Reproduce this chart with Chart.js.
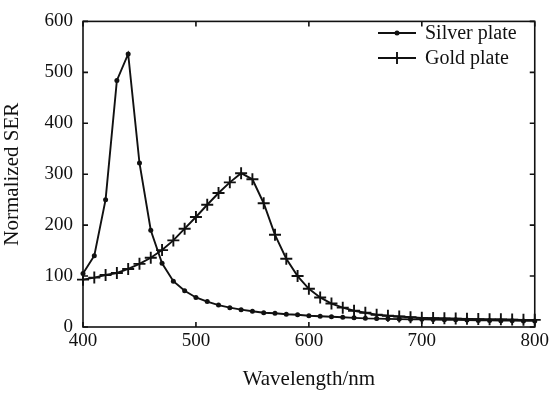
<!DOCTYPE html>
<html>
<head>
<meta charset="utf-8">
<script src="https://cdn.jsdelivr.net/npm/chart.js@4/dist/chart.umd.min.js"></script>
<style>
  html, body { margin: 0; padding: 0; background: #fff; }
  #wrap { width: 552px; height: 394px; }
</style>
</head>
<body>
<div id="wrap"><canvas id="serChart"></canvas></div>
<script>
// Wavelength (nm)
const wavelengths = [400, 410, 420, 430, 440, 450, 460, 470, 480, 490,
  500, 510, 520, 530, 540, 550, 560, 570, 580, 590,
  600, 610, 620, 630, 640, 650, 660, 670, 680, 690,
  700, 710, 720, 730, 740, 750, 760, 770, 780, 790, 800];

// Normalized SER values
const silverPlate = [105, 140, 250, 484, 536, 322, 190, 125, 90, 71,
  58, 50, 43, 38, 34, 31, 28, 27, 25, 24,
  22, 21, 20, 19, 18, 17, 16.5, 16, 15.5, 15,
  15, 14.5, 14, 14, 13.5, 13, 13, 12.5, 12.5, 12, 12];

const goldPlate = [93, 97, 102, 106, 114, 124, 136, 151, 170, 193,
  216, 240, 263, 284, 302, 290, 243, 181, 134, 100,
  75, 58, 46, 38, 32, 28, 24, 22, 20.5, 19,
  18, 17.5, 17, 16.5, 16, 15.5, 15, 15, 14.5, 14, 14];

const xTicks = [400, 500, 600, 700, 800];
const yTicks = [0, 100, 200, 300, 400, 500, 600];

const FONT = "'Liberation Serif', 'Times New Roman', serif";
const INK = "#111";

function toPoints(ys) {
  return wavelengths.map((x, i) => ({ x: x, y: ys[i] }));
}

// Box frame with inward ticks on all four sides, plus the legend
const framePlugin = {
  id: "frame",
  afterDraw(chart) {
    const ctx = chart.ctx;
    const a = chart.chartArea;
    const xs = chart.scales.x;
    const ys = chart.scales.y;
    const len = 5;
    ctx.save();
    ctx.strokeStyle = INK;
    ctx.lineWidth = 1.6;
    ctx.strokeRect(a.left, a.top, a.right - a.left, a.bottom - a.top);
    ctx.beginPath();
    xTicks.forEach(v => {
      const px = xs.getPixelForValue(v);
      ctx.moveTo(px, a.bottom); ctx.lineTo(px, a.bottom - len);
      ctx.moveTo(px, a.top); ctx.lineTo(px, a.top + len);
    });
    yTicks.forEach(v => {
      const py = ys.getPixelForValue(v);
      ctx.moveTo(a.left, py); ctx.lineTo(a.left + len, py);
      ctx.moveTo(a.right, py); ctx.lineTo(a.right - len, py);
    });
    ctx.stroke();

    // legend
    const items = chart.data.datasets;
    const lx0 = 378, lx1 = 416, tx = 425;
    const rows = [33, 58];
    ctx.font = "20px " + FONT;
    ctx.textBaseline = "middle";
    ctx.textAlign = "left";
    items.forEach((ds, i) => {
      const y = rows[i];
      const mid = (lx0 + lx1) / 2;
      ctx.lineWidth = 1.9;
      ctx.beginPath();
      ctx.moveTo(lx0, y); ctx.lineTo(lx1, y);
      ctx.stroke();
      if (ds.pointStyle === "circle") {
        ctx.fillStyle = INK;
        ctx.beginPath();
        ctx.arc(mid, y, 2.5, 0, Math.PI * 2);
        ctx.fill();
      } else {
        ctx.beginPath();
        ctx.moveTo(mid, y - 6); ctx.lineTo(mid, y + 6);
        ctx.stroke();
      }
      ctx.fillStyle = INK;
      ctx.fillText(ds.label, tx, y + 1);
    });
    ctx.restore();
  }
};

new Chart(document.getElementById("serChart"), {
  type: "line",
  data: {
    datasets: [
      {
        label: "Silver plate",
        data: toPoints(silverPlate),
        borderColor: INK,
        backgroundColor: INK,
        borderWidth: 1.9,
        pointStyle: "circle",
        pointRadius: 2.5,
        pointBorderWidth: 0,
        tension: 0,
        clip: false
      },
      {
        label: "Gold plate",
        data: toPoints(goldPlate),
        borderColor: INK,
        backgroundColor: INK,
        borderWidth: 1.9,
        pointStyle: "cross",
        pointRadius: 6,
        pointBorderWidth: 1.9,
        tension: 0,
        clip: false
      }
    ]
  },
  options: {
    responsive: true,
    maintainAspectRatio: false,
    animation: false,
    layout: { padding: { left: 0, top: 14, right: 15, bottom: 0 } },
    plugins: {
      legend: { display: false },
      tooltip: { enabled: false }
    },
    scales: {
      x: {
        type: "linear",
        min: 400,
        max: 800,
        grid: { display: false, drawTicks: false },
        border: { display: false },
        afterBuildTicks: s => { s.ticks = xTicks.map(v => ({ value: v })); },
        afterFit: s => { s.height = 67; },
        ticks: {
          color: INK,
          padding: 3,
          maxRotation: 0,
          font: { family: FONT, size: 19 }
        },
        title: {
          display: true,
          text: "Wavelength/nm",
          color: INK,
          padding: { top: 0, bottom: 2 },
          font: { family: FONT, size: 21 }
        }
      },
      y: {
        min: 0,
        max: 600,
        grid: { display: false, drawTicks: false },
        border: { display: false },
        afterBuildTicks: s => { s.ticks = yTicks.map(v => ({ value: v })); },
        afterFit: s => { s.width = 83; },
        ticks: {
          color: INK,
          padding: 10,
          font: { family: FONT, size: 19 }
        },
        title: {
          display: true,
          text: "Normalized SER",
          color: INK,
          padding: { top: 0, bottom: 0 },
          font: { family: FONT, size: 21 }
        }
      }
    }
  },
  plugins: [framePlugin]
});
</script>
</body>
</html>
